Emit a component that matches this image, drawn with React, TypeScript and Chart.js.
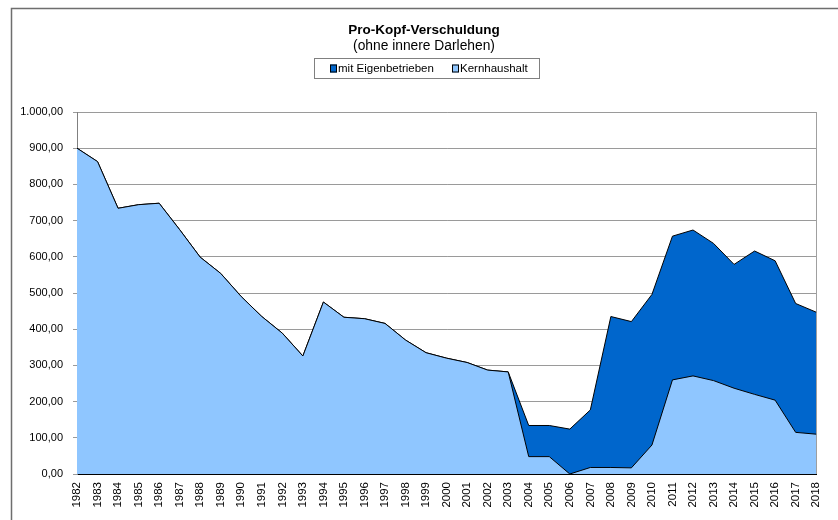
import React, { useEffect, useRef } from "react";
import { Chart, registerables } from "chart.js";

Chart.register(...registerables);

const years = [
  "1982", "1983", "1984", "1985", "1986", "1987", "1988", "1989", "1990", "1991",
  "1992", "1993", "1994", "1995", "1996", "1997", "1998", "1999", "2000", "2001",
  "2002", "2003", "2004", "2005", "2006", "2007", "2008", "2009", "2010", "2011",
  "2012", "2013", "2014", "2015", "2016", "2017", "2018",
];

const kernhaushalt = [
  900, 863, 734, 744, 748, 675, 599, 554, 490, 435,
  389, 326, 475, 433, 429, 416, 370, 335, 320, 308,
  287, 282, 48, 48, 0, 18, 18, 17, 80, 260,
  271, 258, 237, 220, 204, 115, 110,
];

const mitEigenbetrieben = [
  900, 863, 734, 744, 748, 675, 599, 554, 490, 435,
  389, 326, 475, 433, 429, 416, 370, 335, 320, 308,
  287, 282, 134, 134, 124, 177, 435, 421, 496, 657,
  674, 637, 579, 616, 589, 471, 447,
];

const seriesNames = ["mit Eigenbetrieben", "Kernhaushalt"];
const titleText = "Pro-Kopf-Verschuldung";
const subtitleText = "(ohne innere Darlehen)";

const DARK = "#0066CC";
const LIGHT = "#8FC6FF";
const FONT = "'Liberation Sans', Arial, sans-serif";

function formatDe(v: number): string {
  const fixed = Math.abs(v).toFixed(2);
  const [intPart, dec] = fixed.split(".");
  const withDots = intPart.replace(/\B(?=(\d{3})+(?!\d))/g, ".");
  return (v < 0 ? "-" : "") + withDots + "," + dec;
}

const headerPlugin = {
  id: "header",
  beforeDraw(chart: any) {
    const ctx = chart.ctx;
    ctx.save();
    ctx.fillStyle = "#ffffff";
    ctx.fillRect(0, 0, chart.width, chart.height);
    // outer frame
    ctx.strokeStyle = "#6e6e6e";
    ctx.lineWidth = 1.5;
    ctx.beginPath();
    ctx.moveTo(11.5, chart.height + 2);
    ctx.lineTo(11.5, 8.5);
    ctx.lineTo(chart.width + 2, 8.5);
    ctx.stroke();
    ctx.restore();
  },
  beforeDatasetsDraw(chart: any) {
    const { ctx, chartArea } = chart;
    ctx.save();
    ctx.strokeStyle = "#a0a0a0";
    ctx.lineWidth = 1;
    ctx.beginPath();
    ctx.moveTo(Math.round(chartArea.right) + 0.5, chartArea.top);
    ctx.lineTo(Math.round(chartArea.right) + 0.5, chartArea.bottom);
    ctx.stroke();
    ctx.restore();
  },
  afterDraw(chart: any) {
    const ctx = chart.ctx;
    ctx.save();
    ctx.fillStyle = "#000";
    ctx.textAlign = "center";
    ctx.textBaseline = "middle";
    ctx.font = `bold 13.5px ${FONT}`;
    ctx.fillText(titleText, 424, 30);
    ctx.font = `13.8px ${FONT}`;
    ctx.fillText(subtitleText, 424, 46);

    // legend box
    const bx = 314, by = 58, bw = 225, bh = 20;
    ctx.strokeStyle = "#808080";
    ctx.lineWidth = 1;
    ctx.strokeRect(bx + 0.5, by + 0.5, bw, bh);
    ctx.font = `11.5px ${FONT}`;
    ctx.textAlign = "left";
    const items = [
      { x: 330, color: DARK, label: seriesNames[0] },
      { x: 452, color: LIGHT, label: seriesNames[1] },
    ];
    const cy = 68.5;
    for (const it of items) {
      ctx.fillStyle = it.color;
      ctx.fillRect(it.x, cy - 4, 7, 8);
      ctx.strokeStyle = "#000";
      ctx.strokeRect(it.x + 0.5, cy - 3.5, 6, 7);
      ctx.fillStyle = "#000";
      ctx.fillText(it.label, it.x + 8, cy);
    }
    ctx.restore();
  },
};

export default function App() {
  const canvasRef = useRef<HTMLCanvasElement | null>(null);

  useEffect(() => {
    if (!canvasRef.current) return;
    const chart = new Chart(canvasRef.current, {
      type: "line",
      data: {
        labels: years,
        datasets: [
          {
            label: seriesNames[0],
            data: mitEigenbetrieben,
            backgroundColor: DARK,
            borderColor: "#000000",
            borderWidth: 1,
            fill: "origin",
            pointRadius: 0,
            tension: 0,
            order: 2,
          },
          {
            label: seriesNames[1],
            data: kernhaushalt,
            backgroundColor: LIGHT,
            borderColor: "#000000",
            borderWidth: 1,
            fill: "origin",
            pointRadius: 0,
            tension: 0,
            order: 1,
          },
        ],
      },
      options: {
        animation: false,
        responsive: false,
        maintainAspectRatio: false,
        layout: { padding: { top: 112, left: 0, right: 16, bottom: 0 } },
        plugins: {
          legend: { display: false },
          title: { display: false },
          tooltip: { enabled: false },
        },
        scales: {
          x: {
            type: "category",
            offset: false,
            grid: { display: false, drawTicks: false },
            border: { display: true, color: "#000000", width: 1 },
            ticks: {
              autoSkip: false,
              minRotation: 90,
              maxRotation: 90,
              padding: 8,
              color: "#000",
              font: { family: FONT, size: 11.5 },
            },
            afterFit(scale: any) {
              scale.height = 46;
            },
          },
          y: {
            min: 0,
            max: 1000,
            grid: {
              color: "#9a9a9a",
              lineWidth: 1,
              drawTicks: true,
              tickLength: 4,
            },
            border: { display: true, color: "#808080", width: 1 },
            ticks: {
              stepSize: 100,
              padding: 10,
              color: "#000",
              font: { family: FONT, size: 11 },
              callback: (v: any) => formatDe(Number(v)),
            },
            afterFit(scale: any) {
              scale.width = 77;
            },
          },
        },
      },
      plugins: [headerPlugin],
    });
    return () => chart.destroy();
  }, []);

  return (
    <div style={{ position: "absolute", left: 0, top: 0, width: 838, height: 520 }}>
      <canvas ref={canvasRef} width={838} height={520} style={{ width: 838, height: 520, display: "block" }} />
    </div>
  );
}
